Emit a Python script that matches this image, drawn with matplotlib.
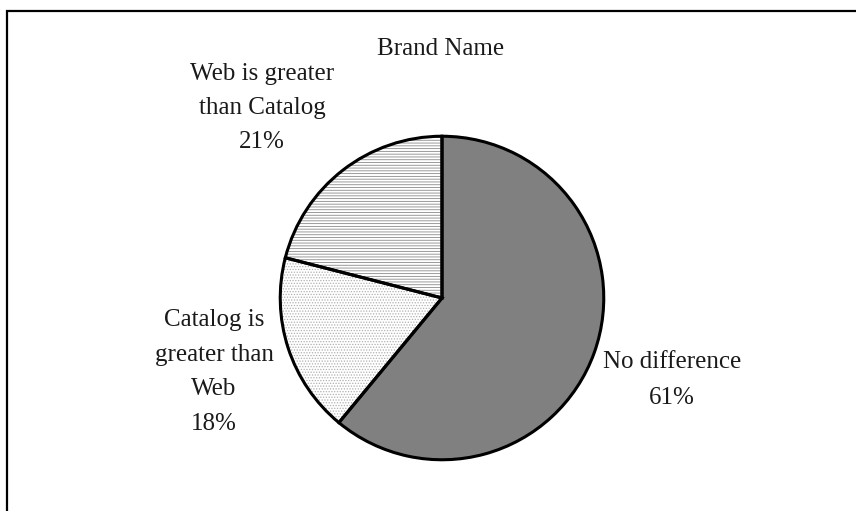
import matplotlib
matplotlib.use('Agg')
import matplotlib.pyplot as plt
from matplotlib.patches import Rectangle

# Datos
categorias = ['No difference', 'Catalog is\ngreater than\nWeb', 'Web is greater\nthan Catalog']
porcentajes = [61, 18, 21]
titulo = 'Brand Name'

plt.rcParams['font.family'] = ['Liberation Serif', 'DejaVu Serif']
plt.rcParams['hatch.linewidth'] = 0.6

W, H = 856, 511
fig = plt.figure(figsize=(W / 100, H / 100), dpi=100)

# Marco exterior (sin borde derecho ni inferior visibles)
fig.patches.append(Rectangle((7 / W, -0.2), 1.2, (H - 11) / H + 0.2,
                             transform=fig.transFigure, fill=False,
                             edgecolor='black', linewidth=1.6))

# Ejes del pastel: centro (442, 298), radio 165 px
cx, cy, r = 442, 298, 165
ax = fig.add_axes([(cx - r) / W, (H - cy - r) / H, 2 * r / W, 2 * r / H])

rellenos = ['#808080', 'white', 'white']
tramas = [None, '......', '------']
color_trama = ['#808080', '#b0b0b0', '#8a8a8a']

# Capa de relleno con tramas
cunas, _ = ax.pie(porcentajes, startangle=90, counterclock=False,
                  colors=rellenos, radius=1,
                  wedgeprops=dict(linewidth=0))
for cuna, t, c in zip(cunas, tramas, color_trama):
    if t:
        cuna.set_hatch(t)
        cuna.set_edgecolor(c)

# Capa de contornos negros
ax.pie(porcentajes, startangle=90, counterclock=False, radius=1,
       wedgeprops=dict(fill=False, edgecolor='black', linewidth=2.2))
ax.set_xlim(-1.02, 1.02)
ax.set_ylim(-1.02, 1.02)
ax.set_aspect('equal')
ax.axis('off')

# Textos (posiciones en pixeles: x centro, linea base de la primera fila)
def texto(x, y0, lineas, paso=34.5):
    for i, linea in enumerate(lineas):
        fig.text(x / W, 1 - (y0 + i * paso) / H, linea, ha='center',
                 va='baseline', fontsize=18, color='#1a1a1a')

texto(441, 55, [titulo])
texto(672, 368, [categorias[0].split('\n')[0], f'{porcentajes[0]}%'], paso=36)
texto(214, 326, categorias[1].split('\n') + [f'{porcentajes[1]}%'])
texto(262, 80, categorias[2].split('\n') + [f'{porcentajes[2]}%'], paso=34)

fig.savefig('out.png', dpi=100)
